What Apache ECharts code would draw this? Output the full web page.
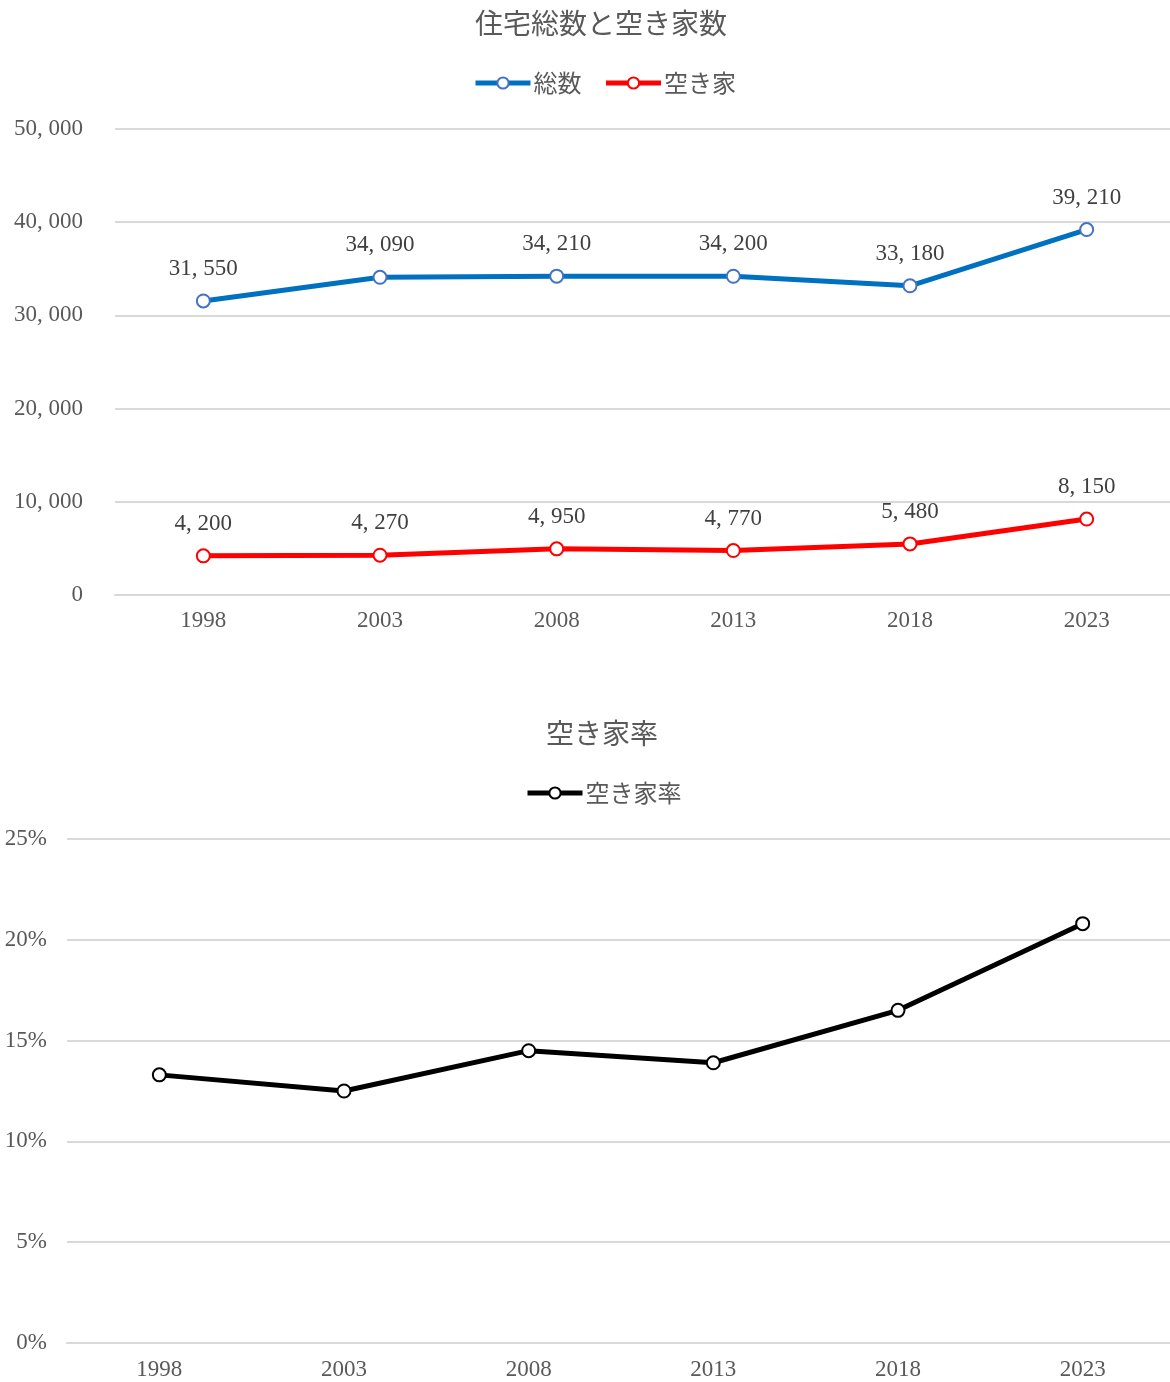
<!DOCTYPE html>
<html>
<head>
<meta charset="utf-8">
<title>住宅総数と空き家数</title>
<script src="https://cdn.jsdelivr.net/npm/echarts@6/dist/echarts.min.js"></script>
<style>
  html, body { margin: 0; padding: 0; background: #fff; }
  #chart { width: 1170px; height: 1382px; }
</style>
</head>
<body>
<div id="chart"></div>
<script>
// データ
const years = ['1998', '2003', '2008', '2013', '2018', '2023']
const totalHouses = [31550, 34090, 34210, 34200, 33180, 39210] // 総数
const vacantHouses = [4200, 4270, 4950, 4770, 5480, 8150] // 空き家
const vacancyRate = [13.3, 12.5, 14.5, 13.9, 16.5, 20.8] // 空き家率(%)

const numFont = '"Liberation Serif", "DejaVu Serif", serif'
const jpFont = '"Noto Sans CJK JP", sans-serif'
const gray = '#595959'

// 桁区切り（元の図はカンマの後ろに少し空きがある）
const fmt = v => v.toLocaleString('en-US').replace(/,/g, ', ')

let myChart = echarts.init(document.getElementById('chart'))

function lineSeries(name, data, color, border, xIdx, withLabel) {
  return {
    name: name,
    type: 'line',
    xAxisIndex: xIdx,
    yAxisIndex: xIdx,
    data: data,
    symbol: 'circle',
    symbolSize: 13,
    lineStyle: { color: color, width: 5 },
    itemStyle: { color: '#fff', borderColor: border, borderWidth: 2 },
    label: {
      show: withLabel,
      position: 'top',
      distance: 13,
      color: '#404040',
      fontSize: 23,
      fontFamily: numFont,
      formatter: p => fmt(p.value)
    },
    emphasis: { disabled: true },
    z: 3
  }
}

const catAxis = (gridIndex, margin) => ({
  type: 'category',
  gridIndex: gridIndex,
  data: years,
  axisTick: { show: false },
  axisLine: { lineStyle: { color: '#d9d9d9', width: 2 } },
  axisLabel: { color: gray, fontSize: 23, fontFamily: numFont, margin: margin }
})

const legendBase = {
  itemWidth: 55,
  itemHeight: 14,
  lineStyle: { width: 5 },
  textStyle: { color: gray, fontSize: 24, fontFamily: jpFont, padding: [0, 0, 0, -2] }
}

var option = {
  animation: false,
  title: [{
    text: '住宅総数と空き家数',
    left: 470,
    top: 4,
    textStyle: { color: gray, fontSize: 28, fontWeight: 'normal', fontFamily: jpFont }
  }, {
    text: '空き家率',
    left: 541,
    top: 714,
    textStyle: { color: gray, fontSize: 28, fontWeight: 'normal', fontFamily: jpFont }
  }],
  legend: [Object.assign({}, legendBase, {
    data: ['総数', '空き家'],
    left: 468,
    top: 66,
    itemGap: 22
  }), Object.assign({}, legendBase, {
    data: ['空き家率'],
    left: 520,
    top: 776
  })],
  // プロット領域は右端で少しはみ出す
  grid: [
    { left: 115, top: 129, width: 1060, height: 466, outerBoundsMode: 'none' },
    { left: 67, top: 839, width: 1108, height: 504, outerBoundsMode: 'none' }
  ],
  xAxis: [catAxis(0, 14), catAxis(1, 15)],
  yAxis: [{
    type: 'value',
    gridIndex: 0,
    min: 0,
    max: 50000,
    interval: 10000,
    axisLine: { show: false },
    axisTick: { show: false },
    splitLine: { lineStyle: { color: '#d9d9d9', width: 2 } },
    axisLabel: { color: gray, fontSize: 23, fontFamily: numFont, margin: 32, formatter: v => fmt(v) }
  }, {
    type: 'value',
    gridIndex: 1,
    min: 0,
    max: 25,
    interval: 5,
    axisLine: { show: false },
    axisTick: { show: false },
    splitLine: { lineStyle: { color: '#d9d9d9', width: 2 } },
    axisLabel: { color: gray, fontSize: 23, fontFamily: numFont, margin: 20, formatter: '{value}%' }
  }],
  series: [
    lineSeries('総数', totalHouses, '#0070c0', '#4472c4', 0, true),
    lineSeries('空き家', vacantHouses, '#ff0000', '#ff0000', 0, true),
    lineSeries('空き家率', vacancyRate, '#000000', '#000000', 1, false)
  ]
}

myChart.setOption(option)
</script>
</body>
</html>
